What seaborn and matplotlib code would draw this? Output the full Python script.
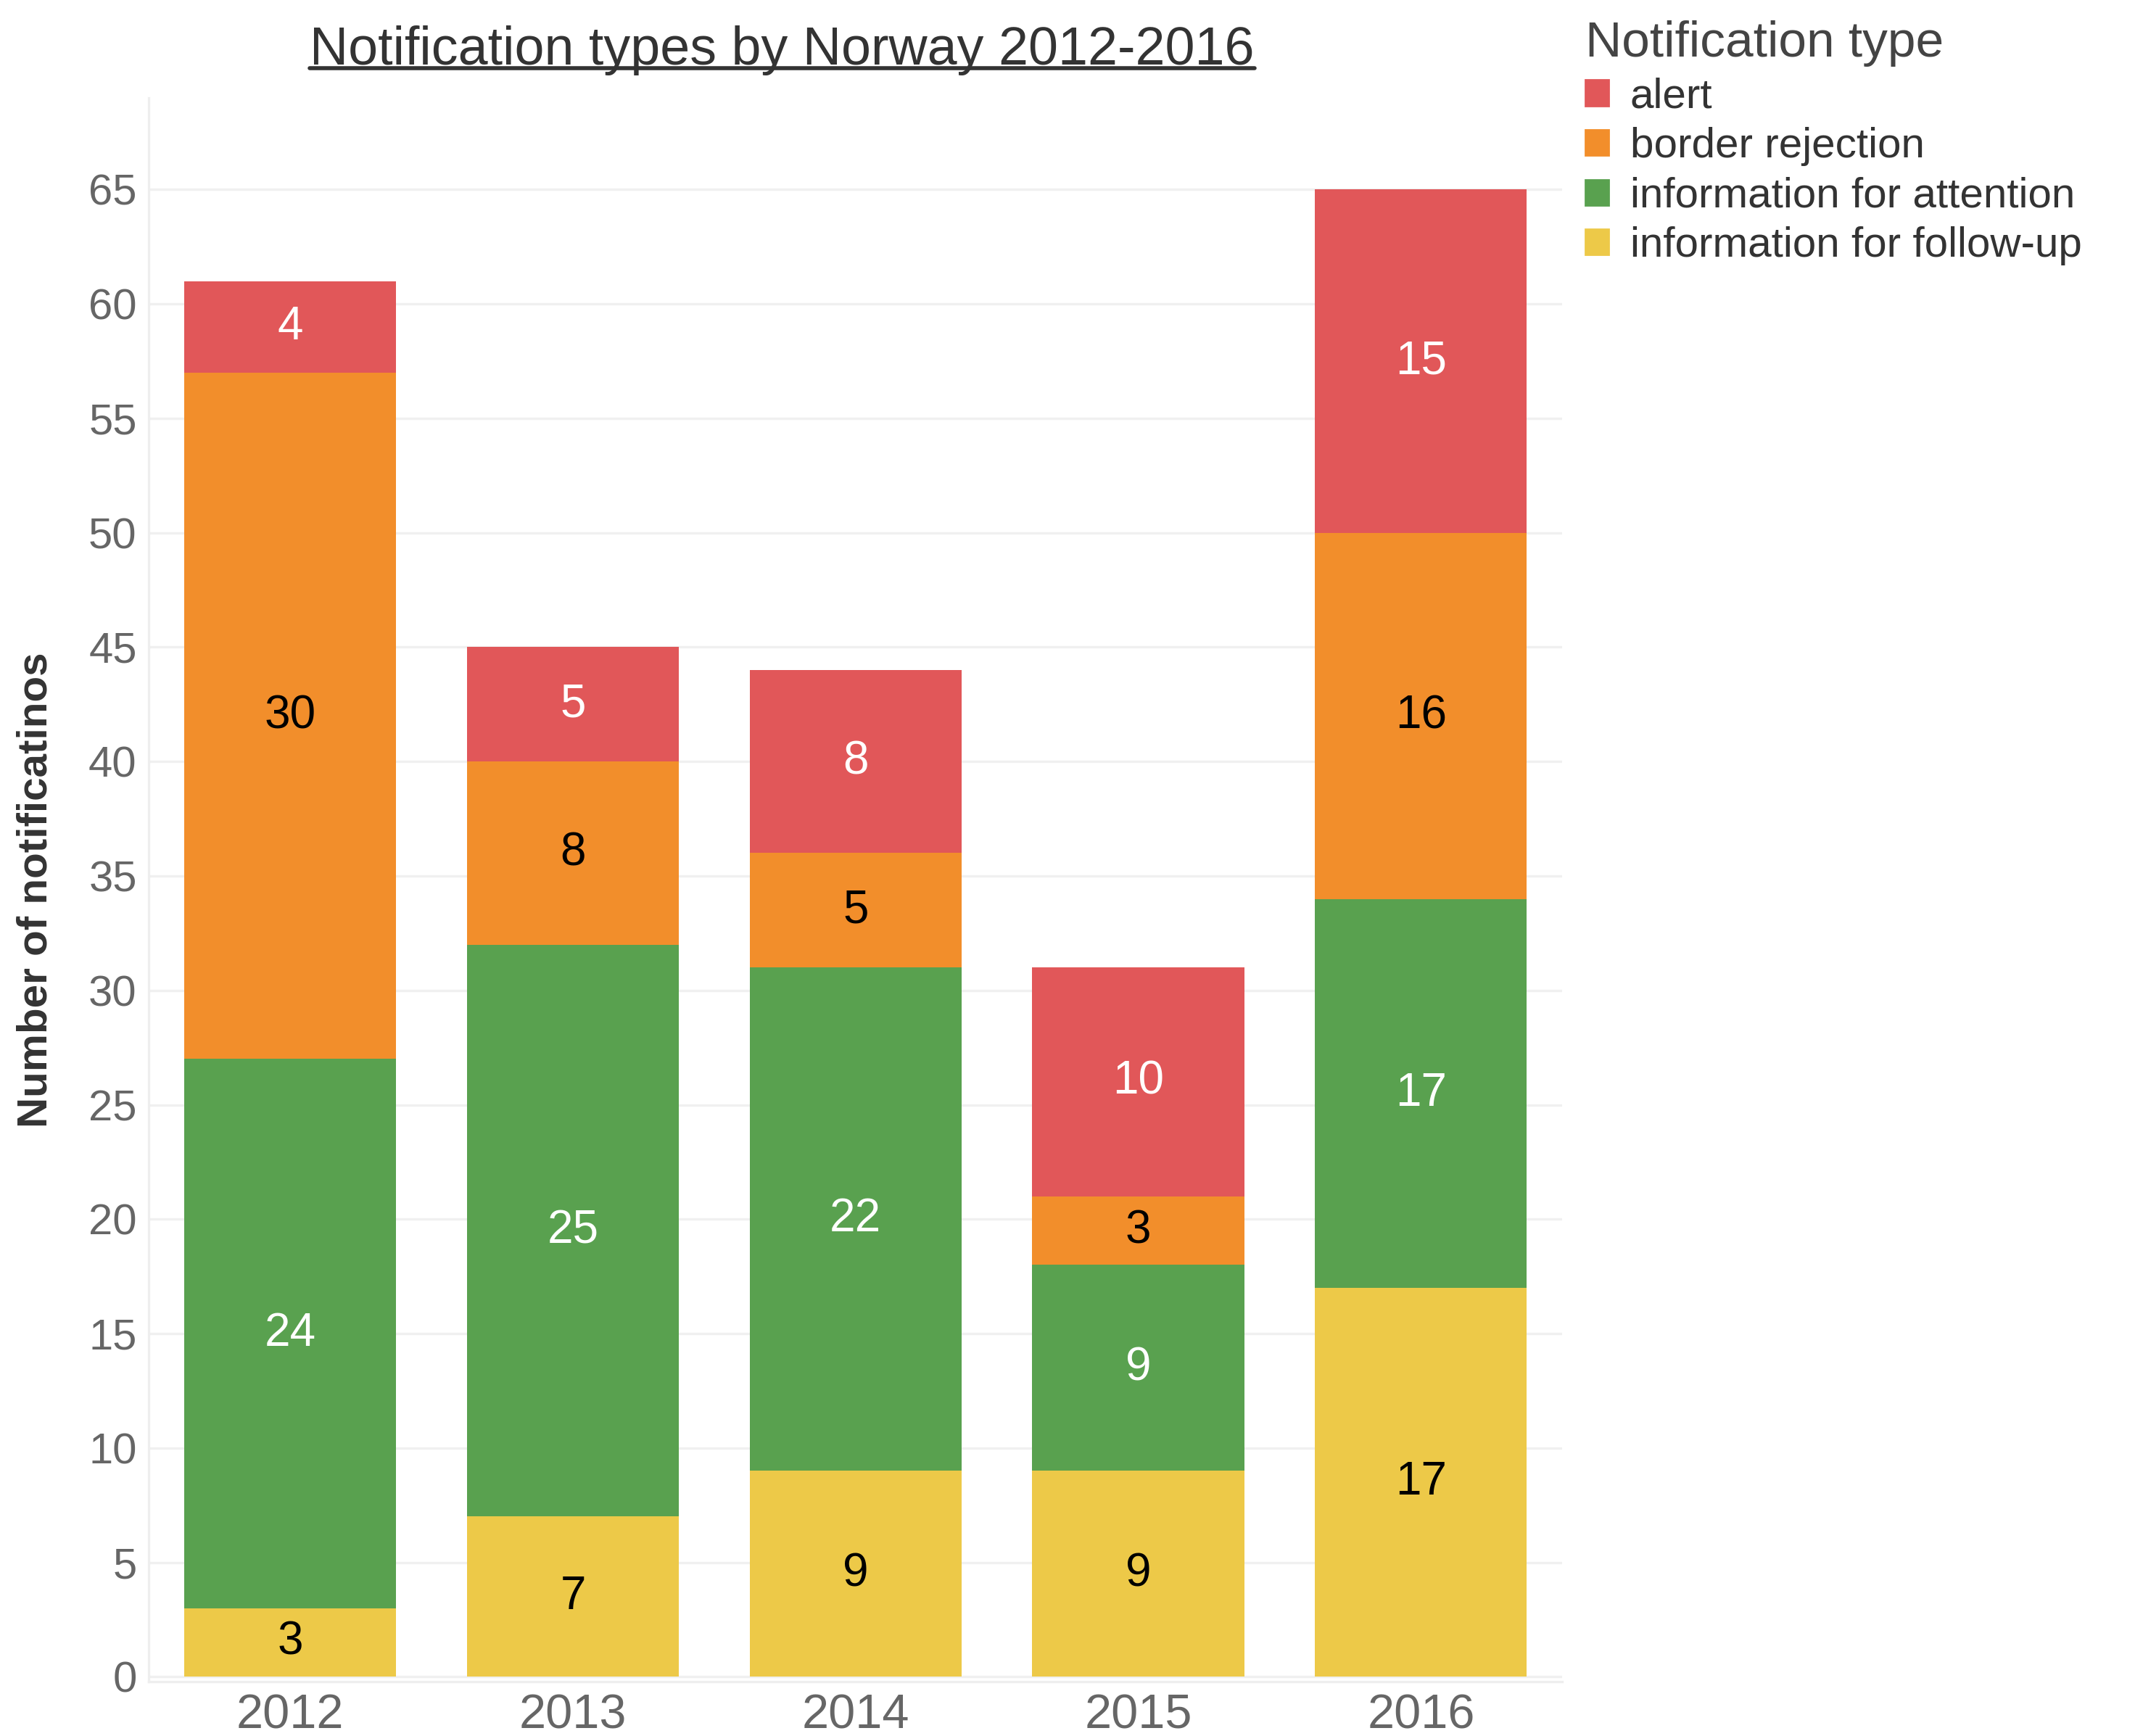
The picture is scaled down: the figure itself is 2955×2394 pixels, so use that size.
import matplotlib.pyplot as plt
import matplotlib.patches as mpatches
from matplotlib.lines import Line2D
import seaborn as sns
import pandas as pd

years = ['2012', '2013', '2014', '2015', '2016']
types = ['alert', 'border rejection', 'information for attention', 'information for follow-up']
followup = [3, 7, 9, 9, 17]
attention = [24, 25, 22, 9, 17]
border = [30, 8, 5, 3, 16]
alert = [4, 5, 8, 10, 15]

colors = {'alert': '#E15759', 'border rejection': '#F28E2B',
          'information for attention': '#59A14F', 'information for follow-up': '#EDC948'}
text_colors = {'alert': 'white', 'border rejection': 'black',
               'information for attention': 'white', 'information for follow-up': 'black'}

sns.set_style('white')
plt.rcParams['font.family'] = ['Liberation Sans', 'DejaVu Sans']

df = pd.DataFrame({'year': years, 'information for follow-up': followup,
                   'information for attention': attention,
                   'border rejection': border, 'alert': alert})
stack_order = ['information for follow-up', 'information for attention', 'border rejection', 'alert']
cum = df[stack_order].cumsum(axis=1)

fig = plt.figure(figsize=(14.775, 11.97), dpi=200)
ax = fig.add_axes([0.0695, 0.0315, 0.6595, 0.912])

# stacked bars: draw cumulative totals, tallest first
for t in reversed(stack_order):
    sns.barplot(x=df['year'], y=cum[t], color=colors[t], width=0.75,
                saturation=1, linewidth=0, ax=ax, zorder=3)

# value labels in the middle of each segment
for i in range(len(years)):
    base = 0
    for t in stack_order:
        v = df[t][i]
        ax.text(i, base + v / 2, str(v), ha='center', va='center',
                fontsize=23, color=text_colors[t], zorder=5)
        base += v

ax.set_ylim(-0.2, 69)
ax.set_xlim(-0.5, 4.5)
ax.set_yticks(range(0, 70, 5))
ax.yaxis.grid(True, color='#f0f0f0', linewidth=1.2, zorder=0)
ax.tick_params(axis='y', labelsize=21.5, labelcolor='#666666', length=0, pad=6)
ax.tick_params(axis='x', labelsize=24, labelcolor='#666666', length=0, pad=6)
ax.set_xlabel('')
ax.set_ylabel('Number of notificatinos', fontsize=21, fontweight='bold', color='#333333')
ax.yaxis.set_label_coords(-0.066, 0.5)
for s in ['top', 'right']:
    ax.spines[s].set_visible(False)
for s in ['left', 'bottom']:
    ax.spines[s].set_color('#eeeeee')
    ax.spines[s].set_linewidth(1.2)

# title with underline
title = fig.text(0.365, 0.971, 'Notification types by Norway 2012-2016', ha='center',
                 va='center', fontsize=26.5, color='#333333')
fig.canvas.draw()
bb = title.get_window_extent().transformed(fig.transFigure.inverted())
fig.add_artist(Line2D([bb.x0, bb.x1], [bb.y0 + 0.004, bb.y0 + 0.004],
                      transform=fig.transFigure, color='#333333', linewidth=2))

handles = [mpatches.Patch(color=colors[t], label=t) for t in types]
leg = fig.legend(handles=handles, title='Notification type', loc='upper left',
                 bbox_to_anchor=(0.732, 0.998), frameon=False, fontsize=21,
                 title_fontsize=25, handlelength=0.55, handleheight=0.55,
                 handletextpad=0.5, labelspacing=0.25, borderaxespad=0)
leg._legend_box.align = 'left'
plt.setp(leg.get_title(), color='#444444')
for txt in leg.get_texts():
    txt.set_color('#333333')

fig.savefig('out.png', dpi=200)
